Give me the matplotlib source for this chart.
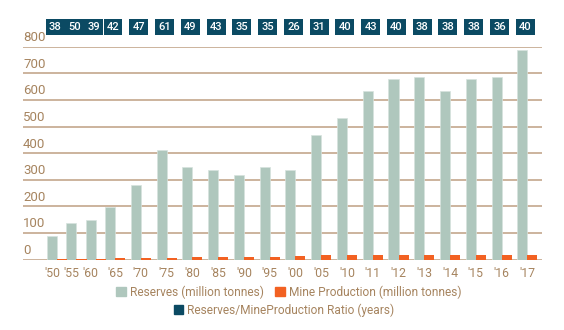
import numpy as np
import matplotlib
matplotlib.use("Agg")
import matplotlib.pyplot as plt
from matplotlib.patches import Patch
import matplotlib.transforms as mtransforms

years = ["'50", "'55", "'60", "'65", "'70", "'75", "'80", "'85", "'90", "'95",
         "'00", "'05", "'10", "'11", "'12", "'13", "'14", "'15", "'16", "'17"]
reserves = [88, 137, 150, 198, 281, 411, 348, 336, 318, 348,
            336, 468, 531, 632, 680, 688, 632, 680, 688, 786]
production = [2, 3, 4, 8, 8, 8, 11, 11, 11, 11,
              15, 16, 16, 16, 16, 16, 16, 17, 17, 17]
ratio = [38, 50, 39, 42, 47, 61, 49, 43, 35, 35,
         26, 31, 40, 43, 40, 38, 38, 38, 36, 40]
yticks = [0, 100, 200, 300, 400, 500, 600, 700, 800]

GREY = "#afc7bd"
ORANGE = "#f26122"
NAVY = "#0b4a63"
GRID = "#bf9f82"
TEXT = "#a6845f"

plt.rcParams["font.family"] = ["Roboto", "DejaVu Sans"]

# first four years sit closer together in the original
x = np.arange(len(years), dtype=float)
x[:3] = 3 - (3 - x[:3]) * 0.75
w = 0.39
tick_pos = x.copy()
tick_pos[:3] -= 0.2

fig = plt.figure(figsize=(5.64, 3.30), dpi=100)
ax = fig.add_axes([0.041, 0.213, 0.92, 0.6455])

ax.bar(x - w / 2, reserves, width=w, color=GREY, edgecolor="#d6e3dd", linewidth=0.5, zorder=3)
ax.bar(x + w / 2, production, width=w, color=ORANGE, linewidth=0, zorder=3)

ax.set_xlim(-0.57, 19.57)
ax.set_ylim(0, 800)
ytrans = mtransforms.blended_transform_factory(ax.transAxes, ax.transData)
for v in yticks:
    ax.axhline(v, color=GRID, lw=1.1, zorder=2)
    ax.text(0, v + 21, str(v), transform=ytrans, ha="left", va="baseline",
            color=TEXT, fontsize=9.5)

ax.set_yticks([])
ax.set_xticks(tick_pos)
ax.set_xticklabels(years, color=TEXT, fontsize=8.8)
ax.tick_params(axis="x", length=0, pad=5)
for s in ax.spines.values():
    s.set_visible(False)

trans = mtransforms.blended_transform_factory(ax.transData, ax.transAxes)
for xi, r in zip(x, ratio):
    ax.text(xi - 0.08, 1.092, str(r), transform=trans, ha="center", va="center",
            color="white", fontsize=8, fontweight="medium", clip_on=False,
            bbox=dict(boxstyle="square,pad=0.28", fc=NAVY, ec="none"))

leg_kw = dict(frameon=False, fontsize=8.6, handlelength=0.8, handleheight=0.8,
              handletextpad=0.3, labelcolor=TEXT)
fig.legend(handles=[Patch(color=GREY, label="Reserves (million tonnes)"),
                    Patch(color=ORANGE, label="Mine Production (million tonnes)")],
           loc="center", bbox_to_anchor=(0.512, 0.115), ncol=2, columnspacing=1.0, **leg_kw)
fig.legend(handles=[Patch(color=NAVY, label="Reserves/MineProduction Ratio (years)")],
           loc="center", bbox_to_anchor=(0.503, 0.06), **leg_kw)

fig.savefig("out.png", dpi=100)
